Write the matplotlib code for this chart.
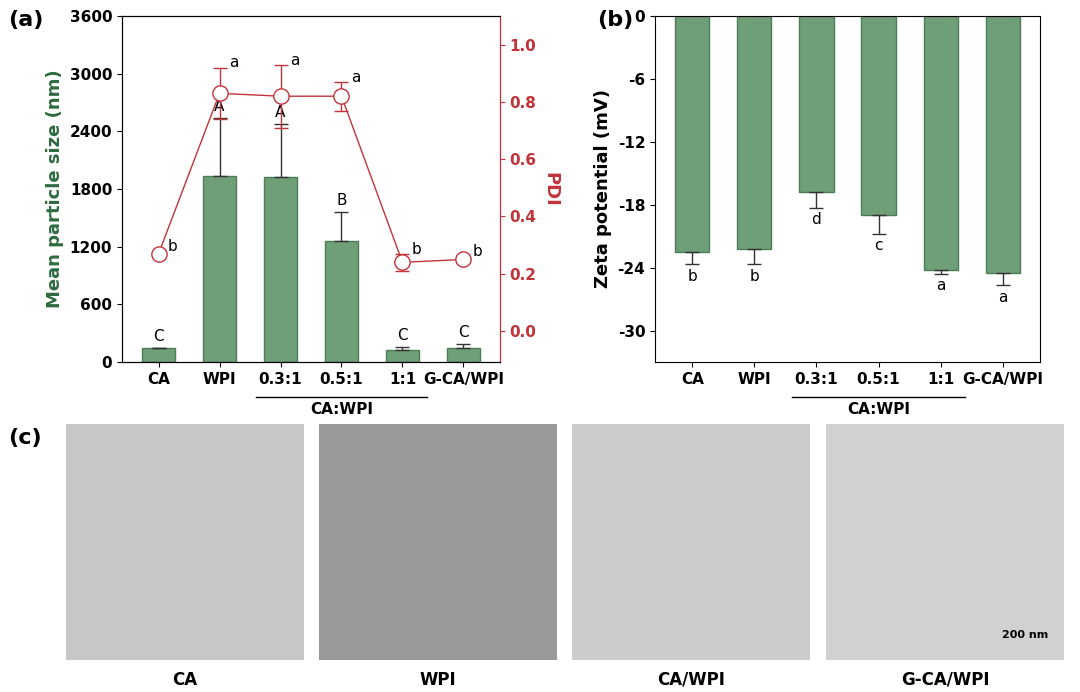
import matplotlib
matplotlib.use("Agg")
import matplotlib.pyplot as plt
import numpy as np

cats = ["CA", "WPI", "0.3:1", "0.5:1", "1:1", "G-CA/WPI"]
size = [150, 1940, 1920, 1260, 130, 150]
size_err = [0, 600, 560, 300, 30, 40]
size_lab = ["C", "A", "A", "B", "C", "C"]
pdi = [0.27, 0.83, 0.82, 0.82, 0.24, 0.25]
pdi_err = [0.01, 0.09, 0.11, 0.05, 0.03, 0.01]
pdi_lab = ["b", "a", "a", "a", "b", "b"]
zeta = [-22.5, -22.2, -16.8, -19.0, -24.2, -24.5]
zeta_err = [1.2, 1.5, 1.5, 1.8, 0.4, 1.2]
zeta_lab = ["b", "b", "d", "c", "a", "a"]
tem_labels = ["CA", "WPI", "CA/WPI", "G-CA/WPI"]
tem_gray = [0.78, 0.6, 0.8, 0.82]

W, H = 1080, 692
fig = plt.figure(figsize=(W/100, H/100), dpi=100)
GREEN = "#6f9f78"; DG = "#2e6b3f"; RED = "#c0343a"
x = np.arange(len(cats))

def ax_at(l, t, r, b):
    return fig.add_axes([l/W, 1-b/H, (r-l)/W, (b-t)/H])

def xlabels(ax):
    ax.set_xticks(x)
    ax.set_xticklabels(cats, fontsize=11, fontweight="bold")
    ax.plot([1.6, 4.4], [-0.1, -0.1], transform=ax.get_xaxis_transform(), color="k", lw=1, clip_on=False)
    ax.text(3, -0.115, "CA:WPI", transform=ax.get_xaxis_transform(), ha="center", va="top", fontsize=11, fontweight="bold")

# (a)
ax = ax_at(122, 16, 500, 362)
ax.bar(x, size, width=0.55, color=GREEN, edgecolor="#4d7d57",
       yerr=[np.zeros(6), size_err], capsize=5, error_kw=dict(lw=1, ecolor="#333"))
ax.set_ylim(0, 3600); ax.set_yticks(np.arange(0, 3601, 600))
ax.set_xlim(-0.6, 5.6)
for i in range(6):
    ax.text(i, size[i]+size_err[i]+40, size_lab[i], ha="center", va="bottom", fontsize=11)
ax.set_ylabel("Mean particle size (nm)", color=DG, fontsize=13, fontweight="bold")
ax.tick_params(axis="y", labelsize=11)
for t in ax.get_yticklabels(): t.set_fontweight("bold")
xlabels(ax)
ax2 = ax.twinx()
ax2.errorbar(x, pdi, yerr=pdi_err, color=RED, lw=1, marker="o", ms=11, mfc="white", mec=RED, capsize=5)
ax2.set_ylim(-0.108, 1.1); ax2.set_yticks(np.arange(0, 1.01, 0.2))
ax2.set_yticklabels([f"{v:.1f}" for v in np.arange(0, 1.01, 0.2)], color=RED, fontsize=11, fontweight="bold")
ax2.tick_params(axis="y", colors=RED)
ax2.spines["right"].set_color(RED)
ax2.set_ylabel("PDI", color=RED, fontsize=13, fontweight="bold", rotation=270, labelpad=16)
for i in range(6):
    ax2.text(i+0.15, pdi[i]+pdi_err[i]-0.01, pdi_lab[i], ha="left", va="bottom", fontsize=11)
fig.text(8/W, 1-20/H, "(a)", fontsize=16, fontweight="bold", va="center")

# (b)
bx = ax_at(655, 16, 1040, 362)
bx.bar(x, zeta, width=0.55, color=GREEN, edgecolor="#4d7d57",
       yerr=[zeta_err, np.zeros(6)], capsize=5, error_kw=dict(lw=1, ecolor="#333"))
bx.set_ylim(-33, 0); bx.set_yticks(np.arange(-30, 1, 6)); bx.set_yticklabels(["-30","-24","-18","-12","-6","0"], fontsize=11, fontweight="bold")
bx.set_xlim(-0.6, 5.6)
for i in range(6):
    bx.text(i, zeta[i]-zeta_err[i]-0.4, zeta_lab[i], ha="center", va="top", fontsize=11)
bx.set_ylabel("Zeta potential (mV)", fontsize=13, fontweight="bold")
xlabels(bx)
fig.text(597/W, 1-20/H, "(b)", fontsize=16, fontweight="bold", va="center")

# (c)
fig.text(8/W, 1-438/H, "(c)", fontsize=16, fontweight="bold", va="center")
lefts = [66, 319, 572, 826]
for l, lab, g in zip(lefts, tem_labels, tem_gray):
    a = ax_at(l, 424, l+238, 660)
    a.set_facecolor(str(g)); a.set_xticks([]); a.set_yticks([])
    for s in a.spines.values(): s.set_visible(False)
    fig.text((l+119)/W, 1-680/H, lab, ha="center", va="center", fontsize=12, fontweight="bold")
fig.text(1025/W, 1-638/H, "200 nm", ha="center", fontsize=8, fontweight="bold")
fig.savefig("out.png", dpi=100)
